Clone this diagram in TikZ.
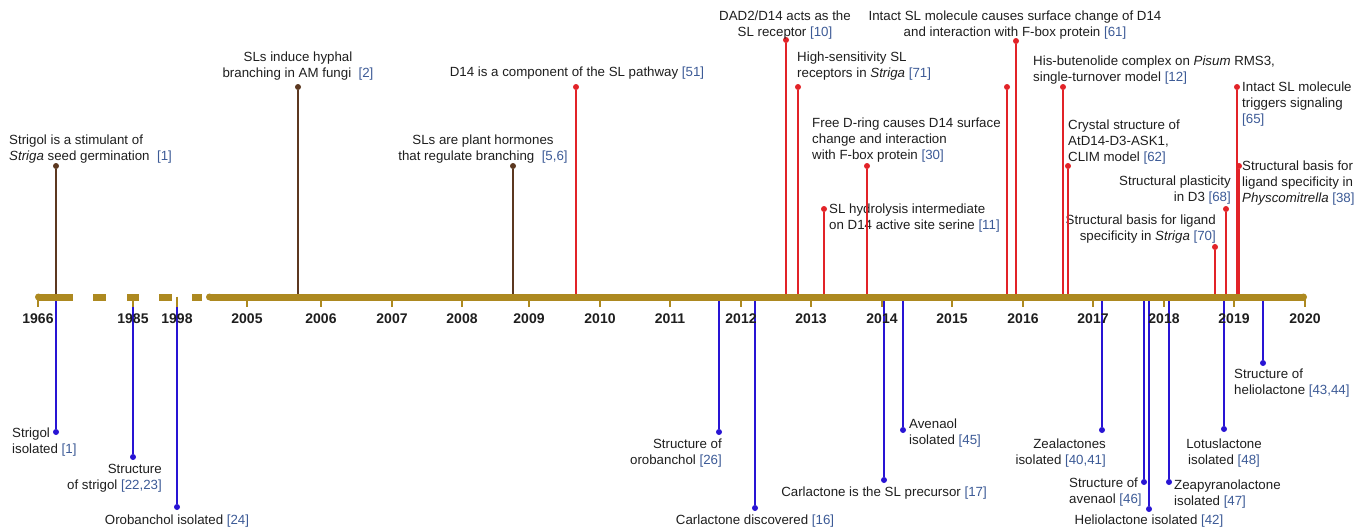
\documentclass[tikz,border=0pt]{standalone}
\usepackage{fontspec}
\setmainfont{Liberation Sans}
\definecolor{redc}{RGB}{226,35,40}
\definecolor{brownc}{RGB}{92,56,32}
\definecolor{bluec}{RGB}{40,20,212}
\definecolor{goldc}{RGB}{173,137,32}
\definecolor{refc}{RGB}{60,90,150}
\definecolor{txt}{RGB}{30,30,30}
\newcommand\rf[1]{\textcolor{refc}{[#1]}}
\begin{document}
\begin{tikzpicture}[x=1pt,y=-1pt,
  lbl/.style={font=\fontsize{13.3}{16}\selectfont, inner sep=0pt, text=txt},
  lblL/.style={lbl, align=left, anchor=north west},
  lblC/.style={lbl, align=center, anchor=north},
  lblR/.style={lbl, align=right, anchor=north east},
  dotR/.style={circle, fill=redc, inner sep=0pt, minimum size=6pt},
  dotBr/.style={circle, fill=brownc, inner sep=0pt, minimum size=6pt},
  dotBl/.style={circle, fill=bluec, inner sep=0pt, minimum size=6pt},
  lnR/.style={redc, line width=1.4pt},
  lnBr/.style={brownc, line width=1.4pt},
  lnBl/.style={bluec, line width=1.6pt},
  yr/.style={font=\fontsize{14}{16}\selectfont\bfseries, inner sep=0pt, anchor=base, text=txt},
  tick/.style={goldc, line width=2pt},
  bar/.style={fill=goldc}
]
\useasboundingbox (0,0) rectangle (1368,531);

% ---------- top events ----------
% brown
\node[dotBr] (dT1) at (56,166) {};   \coordinate (aT1) at (56,297);
\node[lblL] (lT1) at (9,134.6) {Strigol is a stimulant of\\\textit{Striga} seed germination \ \rf{1}};
\node[dotBr] (dT2) at (298,87) {};   \coordinate (aT2) at (298,297);
\node[lblC] (lT2) at (298,51.6) {SLs induce hyphal\\branching in AM fungi \ \rf{2}};
\node[dotBr] (dT3) at (513,166) {};  \coordinate (aT3) at (513,297);
\node[lblC] (lT3) at (483,134.6) {SLs are plant hormones\\that regulate branching \ \rf{5,6}};
\draw[lnBr] (dT1) -- (aT1);
\draw[lnBr] (dT2) -- (aT2);
\draw[lnBr] (dT3) -- (aT3);

% red
\node[dotR] (dT4) at (576,87) {};   \coordinate (aT4) at (576,297);
\node[lblC] (lT4) at (577,66.6) {D14 is a component of the SL pathway \rf{51}};
\node[dotR] (dT5) at (786,40) {};   \coordinate (aT5) at (786,297);
\node[lblC] (lT5) at (785,10.6) {DAD2/D14 acts as the\\SL receptor \rf{10}};
\node[dotR] (dT6) at (798,87) {};   \coordinate (aT6) at (798,297);
\node[lblL] (lT6) at (797,51.6) {High-sensitivity SL\\receptors in \textit{Striga} \rf{71}};
\node[dotR] (dT6b) at (1007,87) {}; \coordinate (aT6b) at (1007,297);
\node[dotR] (dT7) at (1016,41) {};  \coordinate (aT7) at (1016,297);
\node[lblC] (lT7) at (1015,10.6) {Intact SL molecule causes surface change of D14\\and interaction with F-box protein \rf{61}};
\node[dotR] (dT8) at (867,166) {};  \coordinate (aT8) at (867,297);
\node[lblL] (lT8) at (812,117.6) {Free D-ring causes D14 surface\\change and interaction\\with F-box protein \rf{30}};
\node[dotR] (dT9) at (824,209) {};  \coordinate (aT9) at (824,297);
\node[lblL] (lT9) at (829,203.6) {SL hydrolysis intermediate\\on D14 active site serine \rf{11}};
\node[dotR] (dT10) at (1063,87) {}; \coordinate (aT10) at (1063,297);
\node[lblL] (lT10) at (1033,55.6) {His-butenolide complex on \textit{Pisum} RMS3,\\single-turnover model \rf{12}};
\node[dotR] (dT11) at (1068,166) {}; \coordinate (aT11) at (1068,297);
\node[lblL] (lT11) at (1068,119.6) {Crystal structure of\\AtD14-D3-ASK1,\\CLIM model \rf{62}};
\node[dotR] (dT12) at (1237,87) {}; \coordinate (aT12) at (1237,297);
\node[lblL] (lT12) at (1242,81.6) {Intact SL molecule\\triggers signaling\\\rf{65}};
\node[dotR] (dT13) at (1239,166) {}; \coordinate (aT13) at (1239,297);
\node[lblL] (lT13) at (1242,160.6) {Structural basis for\\ligand specificity in\\\textit{Physcomitrella} \rf{38}};
\node[dotR] (dT14) at (1226,209) {}; \coordinate (aT14) at (1226,297);
\node[lblR] (lT14) at (1231,175.6) {Structural plasticity\\in D3 \rf{68}};
\node[dotR] (dT15) at (1215,247) {}; \coordinate (aT15) at (1215,297);
\node[lblR] (lT15) at (1216,214.6) {Structural basis for ligand\\specificity in \textit{Striga} \rf{70}};
\foreach \i in {4,5,6,6b,7,8,9,10,11,12,13,14,15}
  \draw[lnR] (dT\i) -- (aT\i);

% ---------- bottom events ----------
\node[dotBl] (dB1) at (56,432) {};   \coordinate (aB1) at (56,297);
\node[lblL] (lB1) at (12,427.6) {Strigol\\isolated \rf{1}};
\node[dotBl] (dB2) at (133,457) {};  \coordinate (aB2) at (133,297);
\node[lblR] (lB2) at (162,463.6) {Structure\\of strigol \rf{22,23}};
\node[dotBl] (dB3) at (177,507) {};  \coordinate (aB3) at (177,297);
\node[lblC] (lB3) at (177,514.6) {Orobanchol isolated \rf{24}};
\node[dotBl] (dB4) at (719,432) {};  \coordinate (aB4) at (719,297);
\node[lblR] (lB4) at (722,438.6) {Structure of\\orobanchol \rf{26}};
\node[dotBl] (dB5) at (755,508) {};  \coordinate (aB5) at (755,297);
\node[lblC] (lB5) at (755,514.6) {Carlactone discovered \rf{16}};
\node[dotBl] (dB6) at (884,480) {};  \coordinate (aB6) at (884,297);
\node[lblC] (lB6) at (884,486.6) {Carlactone is the SL precursor \rf{17}};
\node[dotBl] (dB7) at (903,430) {};  \coordinate (aB7) at (903,297);
\node[lblL] (lB7) at (909,418.6) {Avenaol\\isolated \rf{45}};
\node[dotBl] (dB8) at (1102,430) {}; \coordinate (aB8) at (1102,297);
\node[lblR] (lB8) at (1106,438.6) {Zealactones\\isolated \rf{40,41}};
\node[dotBl] (dB9) at (1144,482) {}; \coordinate (aB9) at (1144,297);
\node[lblL] (lB9) at (1069,477.6) {Structure of\\avenaol \rf{46}};
\node[dotBl] (dB10) at (1149,509) {}; \coordinate (aB10) at (1149,297);
\node[lblC] (lB10) at (1149,514.6) {Heliolactone isolated \rf{42}};
\node[dotBl] (dB11) at (1169,482) {}; \coordinate (aB11) at (1169,297);
\node[lblL] (lB11) at (1174,479.6) {Zeapyranolactone\\isolated \rf{47}};
\node[dotBl] (dB12) at (1224,429) {}; \coordinate (aB12) at (1224,297);
\node[lblC] (lB12) at (1224,438.6) {Lotuslactone\\isolated \rf{48}};
\node[dotBl] (dB13) at (1263,363) {}; \coordinate (aB13) at (1263,297);
\node[lblL] (lB13) at (1234,368.6) {Structure of\\heliolactone \rf{43,44}};
\foreach \i in {1,...,13}
  \draw[lnBl] (aB\i) -- (dB\i);

% ---------- axis ----------
\foreach \x in {38,133,247,321,392,462,529,600,670,741,811,882,952,1023,1093,1164,1234,1305}
  \draw[tick] (\x,299) -- (\x,306.5);
\draw[tick, line width=2.4pt] (177,296.5) -- (177,306.5);
\fill[bar] (38.5,293.5) rectangle (73,300.5);
\fill[bar] (38.5,297) circle (3.5);
\fill[bar] (93,293.5) rectangle (106,300.5);
\fill[bar] (127,293.5) rectangle (139,300.5);
\fill[bar] (159,293.5) rectangle (172,300.5);
\fill[bar] (192,293.5) rectangle (202,300.5);
\fill[bar] (209.5,293.5) rectangle (1303.5,300.5);
\fill[bar] (209.5,297) circle (3.5);
\fill[bar] (1303.5,297) circle (3.5);

% year labels
\node[yr] (y1966) at (38,323) {1966};
\node[yr] (y1985) at (133,323) {1985};
\node[yr] (y1998) at (177,323) {1998};
\foreach \yy/\x in {2005/247,2006/321,2007/392,2008/462,2009/529,2010/600,2011/670,2012/741,2013/811,2014/882,2015/952,2016/1023,2017/1093,2018/1164,2019/1234,2020/1305}
  \node[yr] (y\yy) at (\x,323) {\yy};
\end{tikzpicture}
\end{document}
